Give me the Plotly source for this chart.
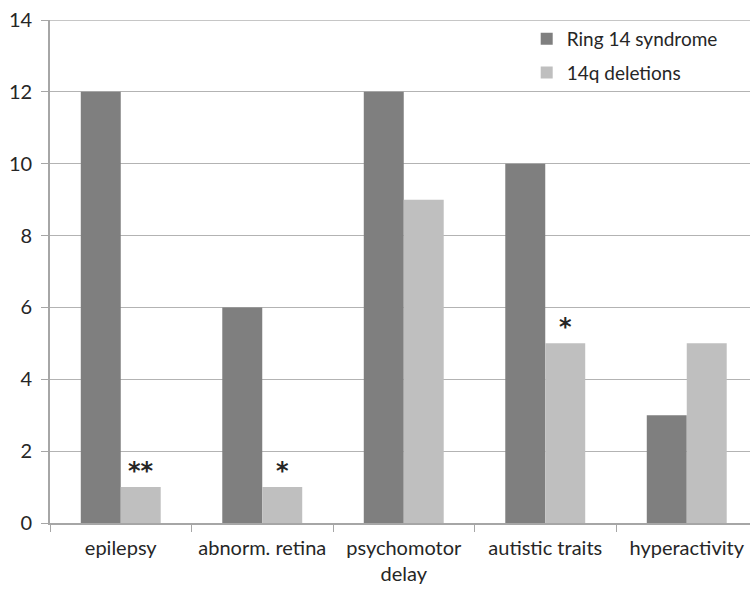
import plotly.graph_objects as go

categories = ["epilepsy", "abnorm. retina", "psychomotor<br>delay", "autistic traits", "hyperactivity"]
ring14 = [12, 6, 12, 10, 3]
del14q = [1, 1, 9, 5, 5]
marks = ["**", "*", "", "*", ""]
y_ticks = [0, 2, 4, 6, 8, 10, 12, 14]

FONT = "Lato"
TXT = "#262626"
GRID = "#b3b3b3"

fig = go.Figure()
fig.add_bar(x=categories, y=ring14, name="Ring 14 syndrome", marker_color="#7f7f7f",
            marker_line_width=0, legendgroup="a")
fig.add_bar(x=categories, y=del14q, name="14q deletions", marker_color="#bfbfbf",
            marker_line_width=0, legendgroup="b")

for c, v, m in zip(categories, del14q, marks):
    if m:
        fig.add_annotation(x=c, y=v, text="<b>" + m + "</b>", showarrow=False,
                           xshift=20, yshift=16, yanchor="middle",
                           font=dict(size=24, color=TXT, family="DejaVu Sans"))

# top gridline at the axis maximum (plotly skips it at the plot edge)
fig.add_shape(type="line", xref="paper", yref="y", x0=0, x1=1, y0=y_ticks[-1], y1=y_ticks[-1],
              line=dict(color=GRID, width=1.3), layer="below")

fig.update_layout(
    width=750, height=590,
    margin=dict(l=50, r=0, t=20, b=67),
    paper_bgcolor="white", plot_bgcolor="white",
    barmode="group", bargap=0.435, bargroupgap=0,
    font=dict(family=FONT, size=20, color=TXT),
    showlegend=True,
    legend=dict(x=0.681, y=1.0, xanchor="left", yanchor="top", bgcolor="rgba(0,0,0,0)",
                font=dict(size=19, color=TXT, family=FONT), itemsizing="constant",
                traceorder="grouped", tracegroupgap=6),
)
fig.update_xaxes(range=[-0.5, 4.447], showline=True, linecolor="#a6a6a6", linewidth=1.5,
                 ticks="outside", tickson="boundaries", ticklen=7, tickcolor="#a6a6a6",
                 ticklabelstandoff=6, ticklabeloverflow="allow",
                 tickfont=dict(size=20, color=TXT, family=FONT), automargin=False)
fig.update_yaxes(range=[0, 14], tickmode="array", tickvals=y_ticks,
                 ticktext=[str(t) + "\u00a0" for t in y_ticks],
                 showgrid=True, gridcolor=GRID, gridwidth=1.3,
                 showline=True, linecolor="#a6a6a6", linewidth=1.5, ticks="outside",
                 ticklen=7, tickcolor="#a6a6a6", zeroline=False, ticklabeloverflow="allow",
                 tickfont=dict(size=20, color=TXT, family=FONT), automargin=False)

fig.write_html("out.html", config={"displayModeBar": False},
               post_script="document.body.style.margin='0';document.body.style.overflow='hidden';")
